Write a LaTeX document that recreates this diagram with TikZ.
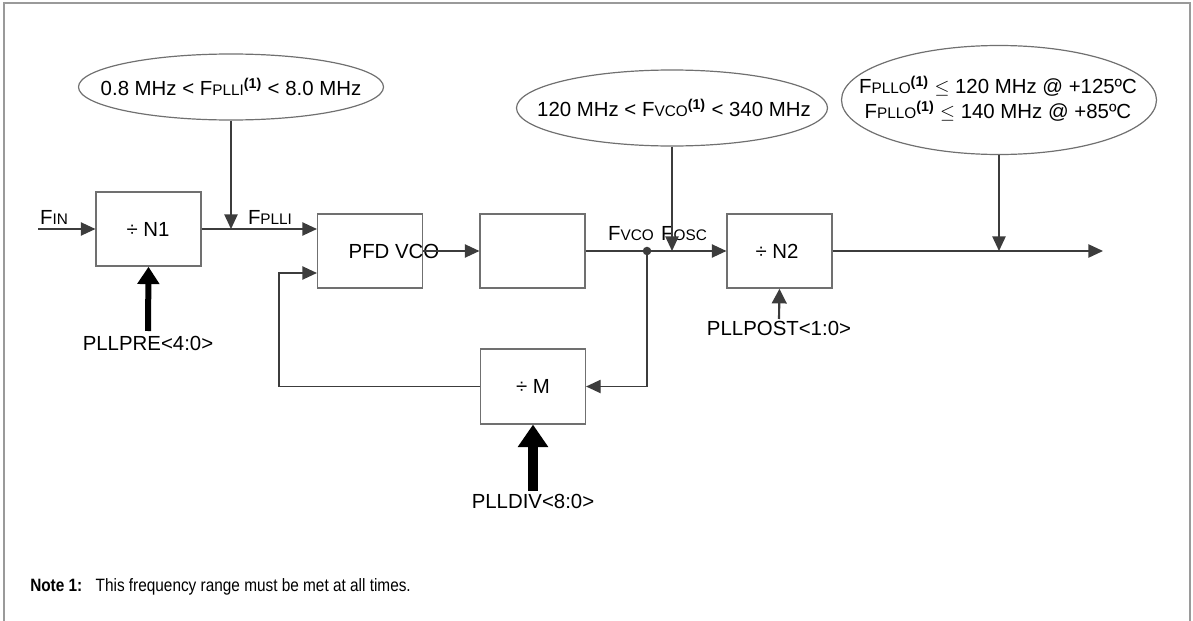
\documentclass[tikz,border=0pt]{standalone}
\usepackage{fontspec}
\setmainfont{Liberation Sans}
\newfontfamily\narrowfont[FakeStretch=0.86]{Liberation Sans}
\usetikzlibrary{arrows.meta,shapes.geometric}
\definecolor{ln}{HTML}{3C3C3C}
\definecolor{bx}{HTML}{707070}
\definecolor{fr}{HTML}{9A9A9A}
\newcommand{\smc}[1]{{\fontsize{11.5pt}{13pt}\selectfont #1}}
\newcommand{\supone}{\textsuperscript{\bfseries (1)}}
\begin{document}
\begin{tikzpicture}[x=0.75pt,y=-0.75pt,
  font=\fontsize{15.3pt}{18.75pt}\selectfont,
  blk/.style={draw=bx,line width=1.1pt,minimum width=78.5pt,minimum height=55.5pt,inner sep=0pt},
  ell/.style={draw=bx,line width=0.9pt,ellipse,inner sep=0pt},
  wire/.style={draw=ln,line width=1.1pt},
  arr/.style={wire,-{Triangle[length=11pt,width=10pt]}},
  fat/.style={draw=black,line width=4.5pt,-{Triangle[length=13pt,width=16pt]}},
  fatter/.style={draw=black,line width=7pt,-{Triangle[length=17pt,width=22pt]}},
  lbl/.style={inner sep=0pt}]
\useasboundingbox (0,0) rectangle (1193,621);
% frame
\draw[fr,line width=1.5pt] (4,621) -- (4,3) -- (1190,3) -- (1190,621);

% blocks
\node[blk] (n1) at (148.5,229) {};
\node[lbl] (n1t) at (148,229) {÷ N1};
\node[blk] (pfd) at (370,251) {};
\node[blk] (b2) at (532.5,251) {};
\node[blk] (n2) at (779.5,251) {};
\node[lbl] (n2t) at (777,251) {÷ N2};
\node[blk,minimum height=56pt] (m) at (533,386.5) {};
\node[lbl] (mt) at (533,386.5) {÷ M};

% ellipses
\node[ell,minimum width=228.75pt,minimum height=49.5pt] (e1) at (231,87) {};
\node[lbl] (e1t) at (231,87) {0.8 MHz < F\smc{PLLI}\supone{} < 8.0 MHz};
\node[ell,minimum width=233.25pt,minimum height=57pt] (e2) at (672,108) {};
\node[lbl] (e2t) at (674,108) {120 MHz < F\smc{VCO}\supone{} < 340 MHz};
\node[ell,minimum width=236.25pt,minimum height=81.75pt] (e3) at (999,100) {};
\node[lbl,align=center] (e3t) at (998,99) {F\smc{PLLO}\supone{} $\leq$ 120 MHz @ +125ºC\\F\smc{PLLO}\supone{} $\leq$ 140 MHz @ +85ºC};

% coordinates
\coordinate (fin) at (38,229);
\coordinate (d) at (647,251);
\coordinate (out) at (1103,251);
\coordinate (fb) at (279,273);
\coordinate (pre) at (148,331);
\coordinate (post) at (779,319);
\coordinate (div) at (533,491);

% labels
\node[lbl] (finl) at (54,217) {F\smc{IN}};
\node[lbl] (fplli) at (270,217) {F\smc{PLLI}};
\node[lbl] (pfdt) at (394,251) {PFD VCO};
\node[lbl] (fvco) at (631,234) {F\smc{VCO}};
\node[lbl] (fosc) at (684,234) {F\smc{OSC}};
\node[lbl,anchor=north] (prel) at (148,336) {PLLPRE<4:0>};
\node[lbl,anchor=north] (postl) at (779,321) {PLLPOST<1:0>};
\node[lbl,anchor=north] (divl) at (533,494) {PLLDIV<8:0>};
\node[lbl,anchor=west] (note) at (30,587) {\narrowfont\fontsize{13.4pt}{15pt}\selectfont\textbf{Note 1:}\hspace{10pt}This frequency range must be met at all times.};

% wires
\draw[arr] (fin) -- (n1.west);
\draw[arr] (n1.east) -- (n1.east -| pfd.west);
\draw[arr] (e1.south) -- (e1.south |- n1.east);
\draw[arr] (pfd.east) -- (b2.west);
\draw[arr] (b2.east) -- (n2.west);
\fill[ln] (d) circle (3.2pt);
\draw[arr] (e2.south) -- (e2.south |- n2.west);
\draw[arr] (n2.east) -- (out);
\draw[arr] (e3.south) -- (e3.south |- out);
\draw[arr] (d) -- (d |- m.east) -- (m.east);
\draw[arr] (m.west) -- (m.west -| fb) -- (fb) -- (fb -| pfd.west);
\draw[fat] (pre) -- (n1.south);
\draw[wire,line width=1.6pt,-{Triangle[length=11pt,width=11pt]}] (post) -- (n2.south);
\draw[fatter] (div) -- (m.south);
\end{tikzpicture}
\end{document}
